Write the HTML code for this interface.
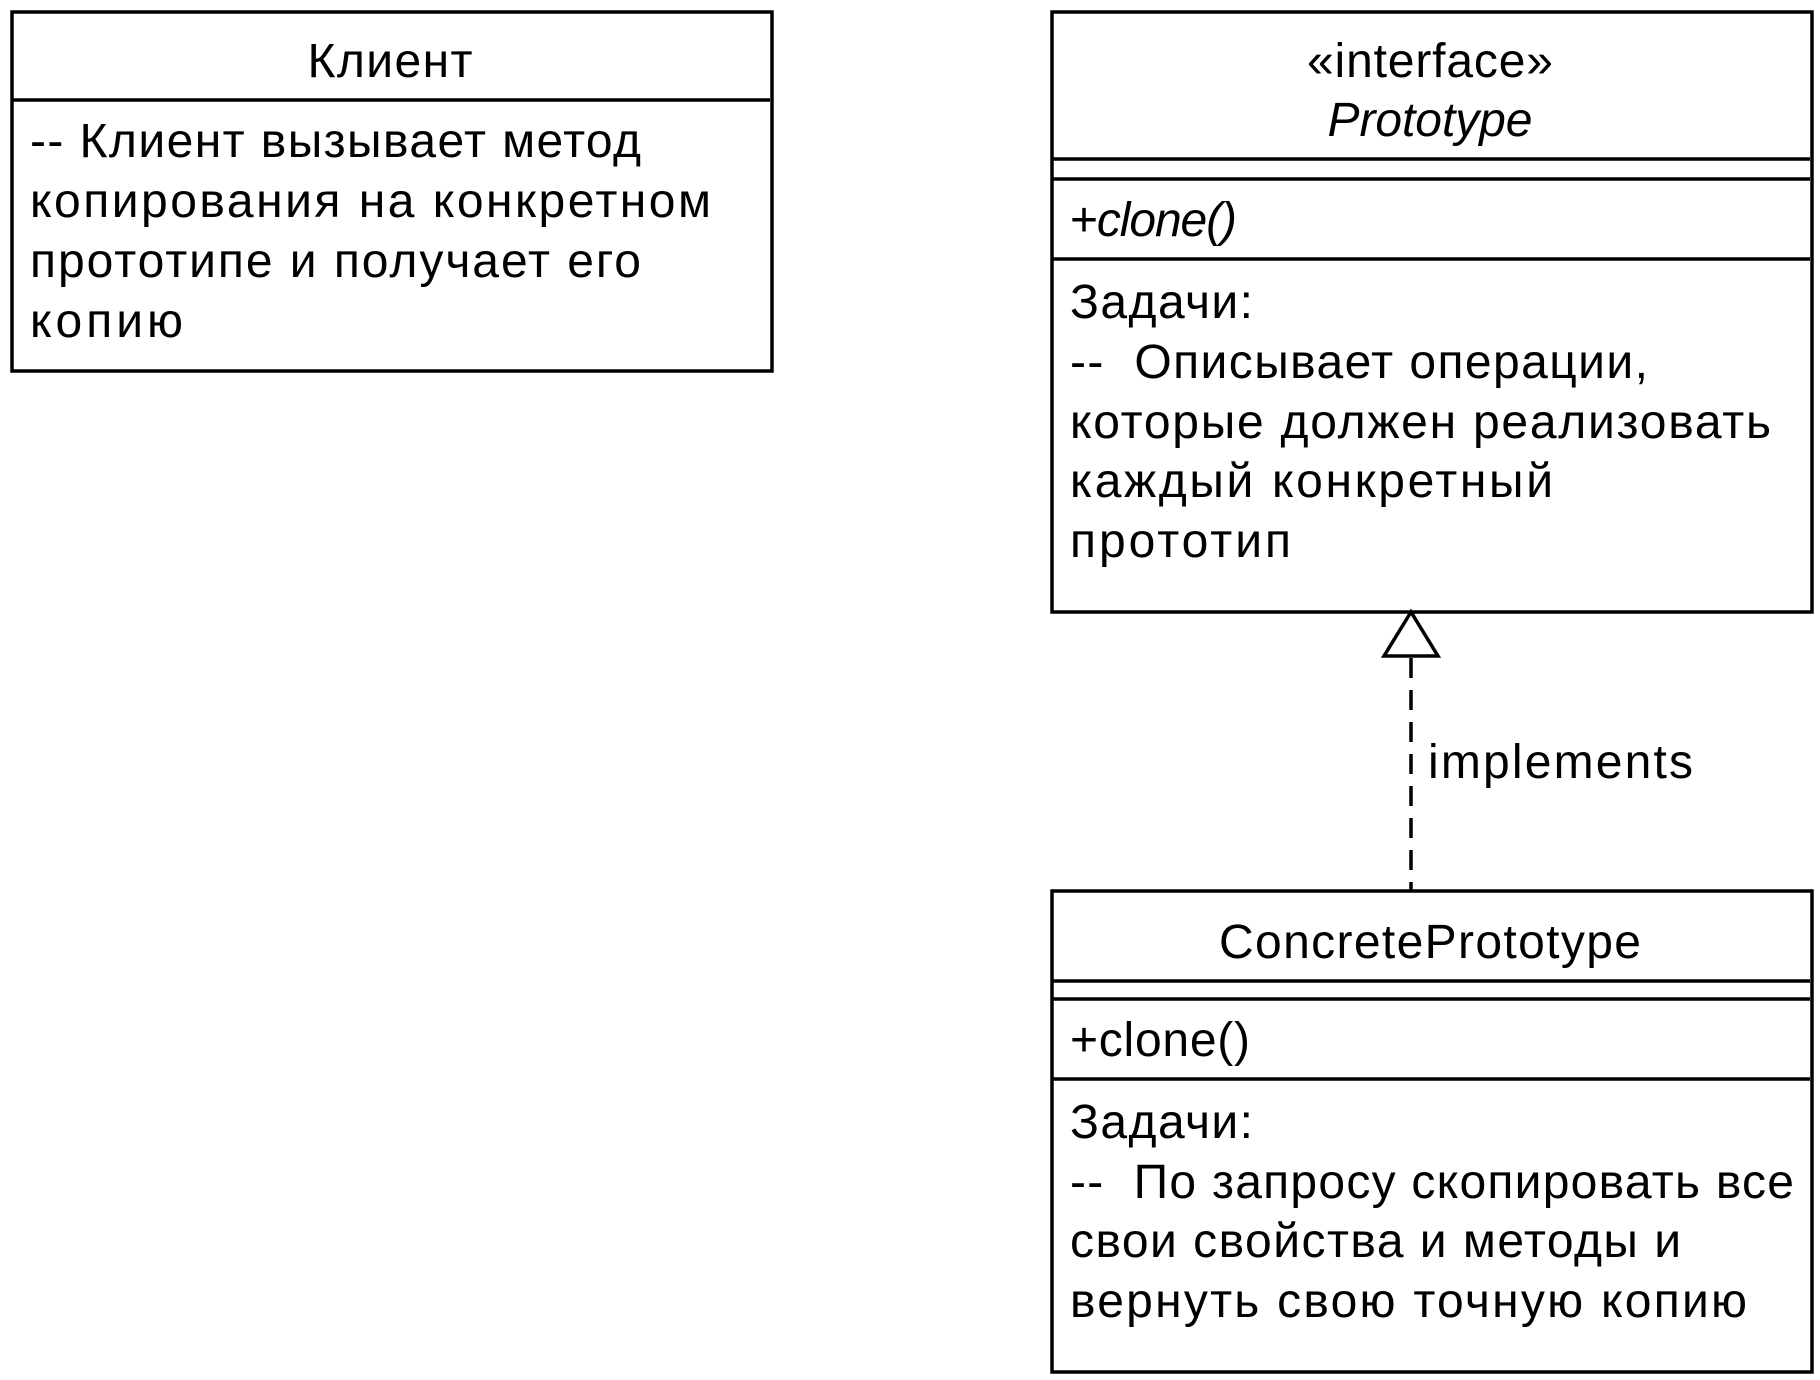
<!DOCTYPE html>
<html><head><meta charset="utf-8"><style>
html,body{margin:0;padding:0;background:#fff;}
svg{display:block;}
text{font-family:"Liberation Sans","DejaVu Sans",sans-serif;font-size:48px;fill:#000;}
</style></head><body>
<svg width="1820" height="1380" viewBox="0 0 1820 1380" xmlns="http://www.w3.org/2000/svg">
<g fill="none" stroke="#000" stroke-width="3.5">
<rect x="12" y="12" width="760" height="359"/>
<line x1="12" y1="100" x2="770" y2="100"/>
<rect x="1052" y="12" width="760" height="600"/>
<line x1="1052" y1="159" x2="1810" y2="159"/>
<line x1="1052" y1="179" x2="1810" y2="179"/>
<line x1="1052" y1="259" x2="1810" y2="259"/>
<rect x="1052" y="891" width="760" height="481"/>
<line x1="1052" y1="981" x2="1810" y2="981"/>
<line x1="1052" y1="999" x2="1810" y2="999"/>
<line x1="1052" y1="1079" x2="1810" y2="1079"/>
<line x1="1411" y1="658" x2="1411" y2="891" stroke-dasharray="20 12"/>
<polygon points="1411,612 1384,656 1438,656"/>
</g>
<text x="390" y="77" text-anchor="middle" textLength="165">Клиент</text>
<text x="30" y="157" textLength="611">-- Клиент вызывает метод</text>
<text x="30" y="217" textLength="681">копирования на конкретном</text>
<text x="30" y="277" textLength="611">прототипе и получает его</text>
<text x="30" y="337" textLength="153">копию</text>
<text x="1430" y="77" text-anchor="middle" textLength="246">«interface»</text>
<text x="1430" y="136" text-anchor="middle" font-style="italic" textLength="205">Prototype</text>
<text x="1070" y="236" textLength="167">+<tspan font-style="italic">clone()</tspan></text>
<text x="1070" y="318" textLength="183">Задачи:</text>
<text x="1070" y="378" xml:space="preserve" textLength="578">--  Описывает операции,</text>
<text x="1070" y="438" textLength="701">которые должен реализовать</text>
<text x="1070" y="497" textLength="483">каждый конкретный</text>
<text x="1070" y="557" textLength="221">прототип</text>
<text x="1428" y="778" textLength="265">implements</text>
<text x="1430" y="958" text-anchor="middle" textLength="422">ConcretePrototype</text>
<text x="1070" y="1056" textLength="180">+clone()</text>
<text x="1070" y="1138" textLength="183">Задачи:</text>
<text x="1070" y="1198" xml:space="preserve" textLength="724">--  По запросу скопировать все</text>
<text x="1070" y="1257" textLength="611">свои свойства и методы и</text>
<text x="1070" y="1317" textLength="677">вернуть свою точную копию</text>
</svg>
</body></html>
